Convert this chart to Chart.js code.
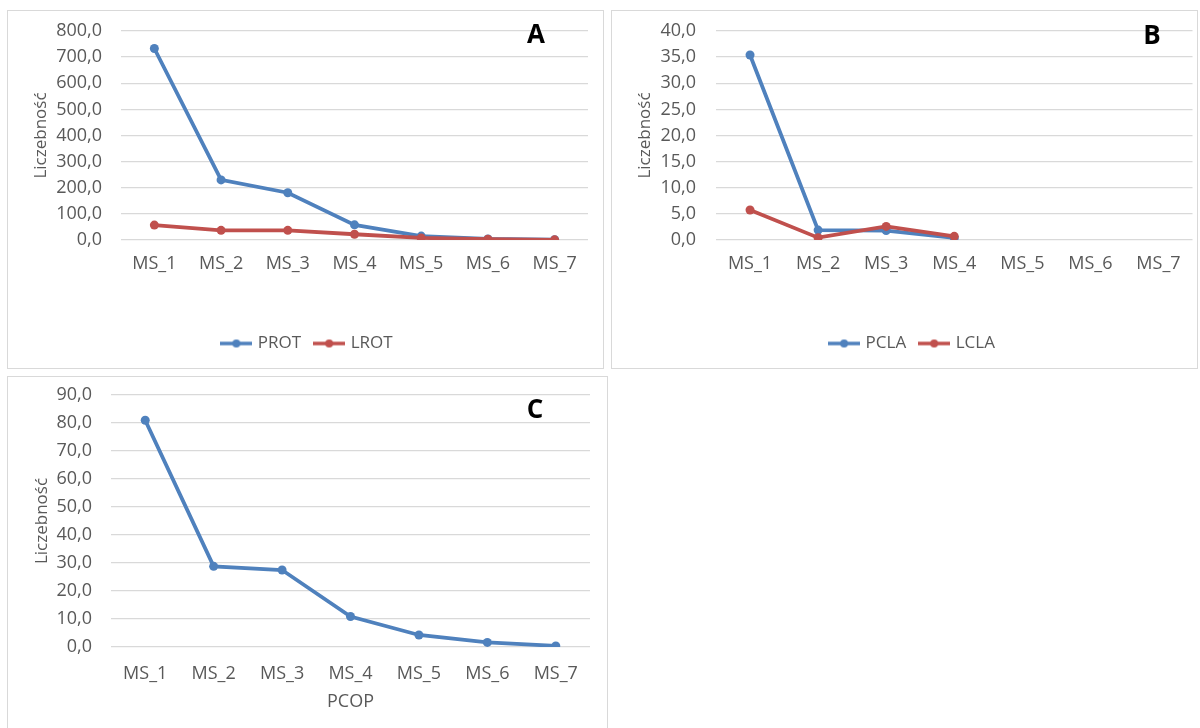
<!DOCTYPE html>
<html lang="pl">
<head>
<meta charset="utf-8">
<title>Liczebność MS_1 – MS_7</title>
<script src="https://cdn.jsdelivr.net/npm/chart.js@4/dist/chart.umd.min.js"></script>
<style>
  body { margin: 0; width: 1200px; height: 728px; background: #fff; overflow: hidden; position: relative; font-family: "Open Sans", sans-serif; }
  .panel { position: absolute; border: 1px solid #d9d9d9; background: #fff; }
  .panel canvas { display: block; }
  .litera { position: absolute; font: bold 26px "Open Sans", sans-serif; color: #000; line-height: 1; transform: translate(-50%, -50%); }
</style>
</head>
<body>

<div class="panel" style="left:7px; top:10px; width:595px; height:357px;">
  <canvas id="wykresA" width="595" height="357"></canvas>
</div>
<div class="panel" style="left:611px; top:10px; width:585px; height:357px;">
  <canvas id="wykresB" width="585" height="357"></canvas>
</div>
<div class="panel" style="left:7px; top:376px; width:599px; height:359px;">
  <canvas id="wykresC" width="599" height="359"></canvas>
</div>

<div class="litera" style="left:536px; top:33px;">A</div>
<div class="litera" style="left:1152px; top:34px;">B</div>
<div class="litera" style="left:535px; top:408px;">C</div>

<script>
// Kategorie (stadia MS) i serie
const kategorie = ['MS_1', 'MS_2', 'MS_3', 'MS_4', 'MS_5', 'MS_6', 'MS_7'];

const prot = [733, 230, 181, 58, 15, 4, 1];
const lrot = [57, 37, 37, 22, 8, 3, 0.5];

const pcla = [35.4, 1.9, 1.8, 0.4, null, null, null];
const lcla = [5.75, 0.45, 2.6, 0.7, null, null, null];

const pcop = [81, 28.8, 27.5, 10.9, 4.3, 1.65, 0.4];

// Zakresy osi Y: [max, krok]
const osA = [800, 100];
const osB = [40, 5];
const osC = [90, 10];

const NIEBIESKI = '#4f81bd';
const CZERWONY = '#c0504d';
const SZARY = '#595959';
const SIATKA = '#d9d9d9';
const FONT = { family: 'Open Sans', size: 18 };

// Ikona legendy: linia z kropką
function ikonaLegendy(kolor) {
    const c = document.createElement('canvas');
    c.width = 32;
    c.height = 10;
    const ctx = c.getContext('2d');
    ctx.strokeStyle = kolor;
    ctx.lineWidth = 3.5;
    ctx.beginPath();
    ctx.moveTo(0, 5);
    ctx.lineTo(32, 5);
    ctx.stroke();
    ctx.fillStyle = kolor;
    ctx.beginPath();
    ctx.arc(16, 5, 4, 0, Math.PI * 2);
    ctx.fill();
    return c;
}

function seria(nazwa, dane, kolor, kolejnosc) {
    return {
        label: nazwa,
        data: dane,
        borderColor: kolor,
        backgroundColor: kolor,
        borderWidth: 3.8,
        pointRadius: 4.5,
        pointBorderWidth: 0,
        pointBackgroundColor: kolor,
        tension: 0,
        order: kolejnosc,
        ikona: ikonaLegendy(kolor)
    };
}

function formatuj(v) {
    return v.toFixed(1).replace('.', ',');
}

function rysuj(id, serie, os, u) {
    new Chart(document.getElementById(id), {
        type: 'line',
        data: { labels: kategorie, datasets: serie },
        options: {
            responsive: false,
            animation: false,
            layout: { padding: u.padding },
            plugins: {
                tooltip: { enabled: false },
                legend: {
                    display: u.legenda,
                    position: 'bottom',
                    labels: {
                        usePointStyle: true,
                        pointStyleWidth: 26,
                        padding: 15,
                        color: SZARY,
                        font: { family: 'Open Sans', size: 17 },
                        generateLabels: function(chart) {
                            return chart.data.datasets.map(function(ds, i) {
                                return {
                                    text: ds.label,
                                    pointStyle: ds.ikona,
                                    fillStyle: ds.borderColor,
                                    strokeStyle: ds.borderColor,
                                    lineWidth: 0,
                                    fontColor: SZARY,
                                    hidden: false,
                                    datasetIndex: i
                                };
                            });
                        }
                    }
                }
            },
            scales: {
                x: {
                    offset: true,
                    grid: { display: false, drawTicks: false },
                    border: { display: false },
                    ticks: { color: SZARY, padding: u.odstepX, font: FONT },
                    title: {
                        display: !!u.tytulX,
                        text: u.tytulX || '',
                        color: SZARY,
                        padding: { top: 0, bottom: 2 },
                        font: FONT
                    },
                    afterFit: function(s) { s.height = u.wysX; }
                },
                y: {
                    min: 0,
                    max: os[0],
                    border: { display: false },
                    grid: { color: SIATKA, lineWidth: 1.3, drawTicks: false },
                    ticks: {
                        stepSize: os[1],
                        padding: u.odstepY,
                        color: SZARY,
                        font: FONT,
                        callback: formatuj
                    },
                    title: {
                        display: true,
                        text: 'Liczebność',
                        color: SZARY,
                        padding: { top: u.tytulY, bottom: 0 },
                        font: { family: 'Open Sans', size: 17 }
                    },
                    afterFit: function(s) {
                        s.width = u.szerY;
                        // górną krawędź wykresu ustala layout.padding
                        s.paddingTop = 0;
                        s.paddingBottom = 0;
                    }
                }
            }
        }
    });
}

// A: PROT / LROT
rysuj('wykresA', [seria('PROT', prot, NIEBIESKI, 2), seria('LROT', lrot, CZERWONY, 1)], osA, {
    padding: { top: 20, right: 15, bottom: 6, left: 20 },
    szerY: 93, odstepY: 19, tytulY: 3,
    wysX: 80, odstepX: 13, legenda: true
});

// B: PCLA / LCLA
rysuj('wykresB', [seria('PCLA', pcla, NIEBIESKI, 2), seria('LCLA', lcla, CZERWONY, 1)], osB, {
    padding: { top: 20, right: 4, bottom: 6, left: 21 },
    szerY: 83, odstepY: 20, tytulY: 2,
    wysX: 80, odstepX: 13, legenda: true
});

// C: PCOP
rysuj('wykresC', [seria('PCOP', pcop, NIEBIESKI, 1)], osC, {
    padding: { top: 18, right: 17, bottom: 21, left: 0 },
    szerY: 103, odstepY: 19, tytulY: 24,
    wysX: 68, odstepX: 16, tytulX: 'PCOP', legenda: false
});
</script>
</body>
</html>
